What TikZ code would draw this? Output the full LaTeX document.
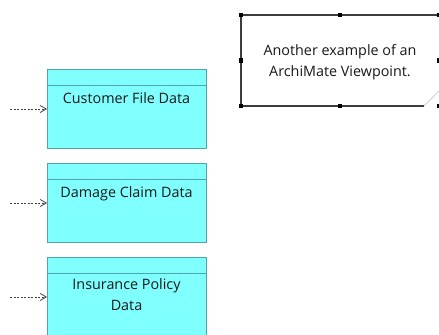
\documentclass[tikz,border=0pt]{standalone}
\usepackage{fontspec}
\setmainfont{Open Sans}
\usetikzlibrary{arrows.meta}
\definecolor{dfill}{RGB}{128,255,255}
\definecolor{dline}{RGB}{80,165,170}
\definecolor{nline}{RGB}{60,60,60}
\begin{document}
\begin{tikzpicture}[x=1bp,y=-1bp,
  databox/.style={draw=dline,fill=dfill,line width=0.8bp,rectangle,inner sep=0pt,minimum width=159bp,minimum height=79bp,anchor=north west},
  txt/.style={font=\fontsize{14.4}{20.5}\selectfont,align=center,text=black!90,inner sep=0pt},
  flow/.style={dash pattern=on 2bp off 1.5bp,draw=black!75,line width=0.8bp,-{Straight Barb[length=6bp,width=7bp,line width=0.8bp]}},
  handle/.style={fill=black,draw=none,minimum size=4.5bp,inner sep=0pt,rectangle}]
\useasboundingbox (0,0) rectangle (439,334);
\clip (0,0) rectangle (439,334);
% data objects
\node[databox] (A) at (47,69) {};
\node[databox] (B) at (47,163) {};
\node[databox] (C) at (47,257) {};
\draw[dline,line width=0.8bp] ([yshift=-16bp]A.north west) -- ([yshift=-16bp]A.north east);
\draw[dline,line width=0.8bp] ([yshift=-16bp]B.north west) -- ([yshift=-16bp]B.north east);
\draw[dline,line width=0.8bp] ([yshift=-16bp]C.north west) -- ([yshift=-16bp]C.north east);
\node[txt,anchor=base] (la) at (126.5,103) {Customer File Data};
\node[txt,anchor=base] (lb) at (126.5,197) {Damage Claim Data};
\node[txt,anchor=base] (lc) at (126.5,310) {Insurance Policy\\Data};
\coordinate (sa) at (10,109);
\coordinate (sb) at (10,203);
\coordinate (sc) at (10,297);
\draw[flow] (sa) -- (sa -| A.west);
\draw[flow] (sb) -- (sb -| B.west);
\draw[flow] (sc) -- (sc -| C.west);
% note
\fill[white] (241,15) -- (439.6,15) -- (439.6,92) -- (424,106) -- (241,106) -- cycle;
\draw[nline,line width=1.3bp] (439.6,92) -- (439.6,15) -- (241,15) -- (241,106) -- (424,106);
\draw[black!25,line width=0.6bp] (424,106) -- (439,91);
\node[txt,anchor=base] (note) at (340,76) {Another example of an\\ArchiMate Viewpoint.};
\foreach \p [count=\i] in {(241,15),(340,15),(439.5,15),(241,60.5),(439.5,60.5),(241,106),(340,106),(439.5,106)}
  \node[handle] (h\i) at \p {};
\end{tikzpicture}
\end{document}
